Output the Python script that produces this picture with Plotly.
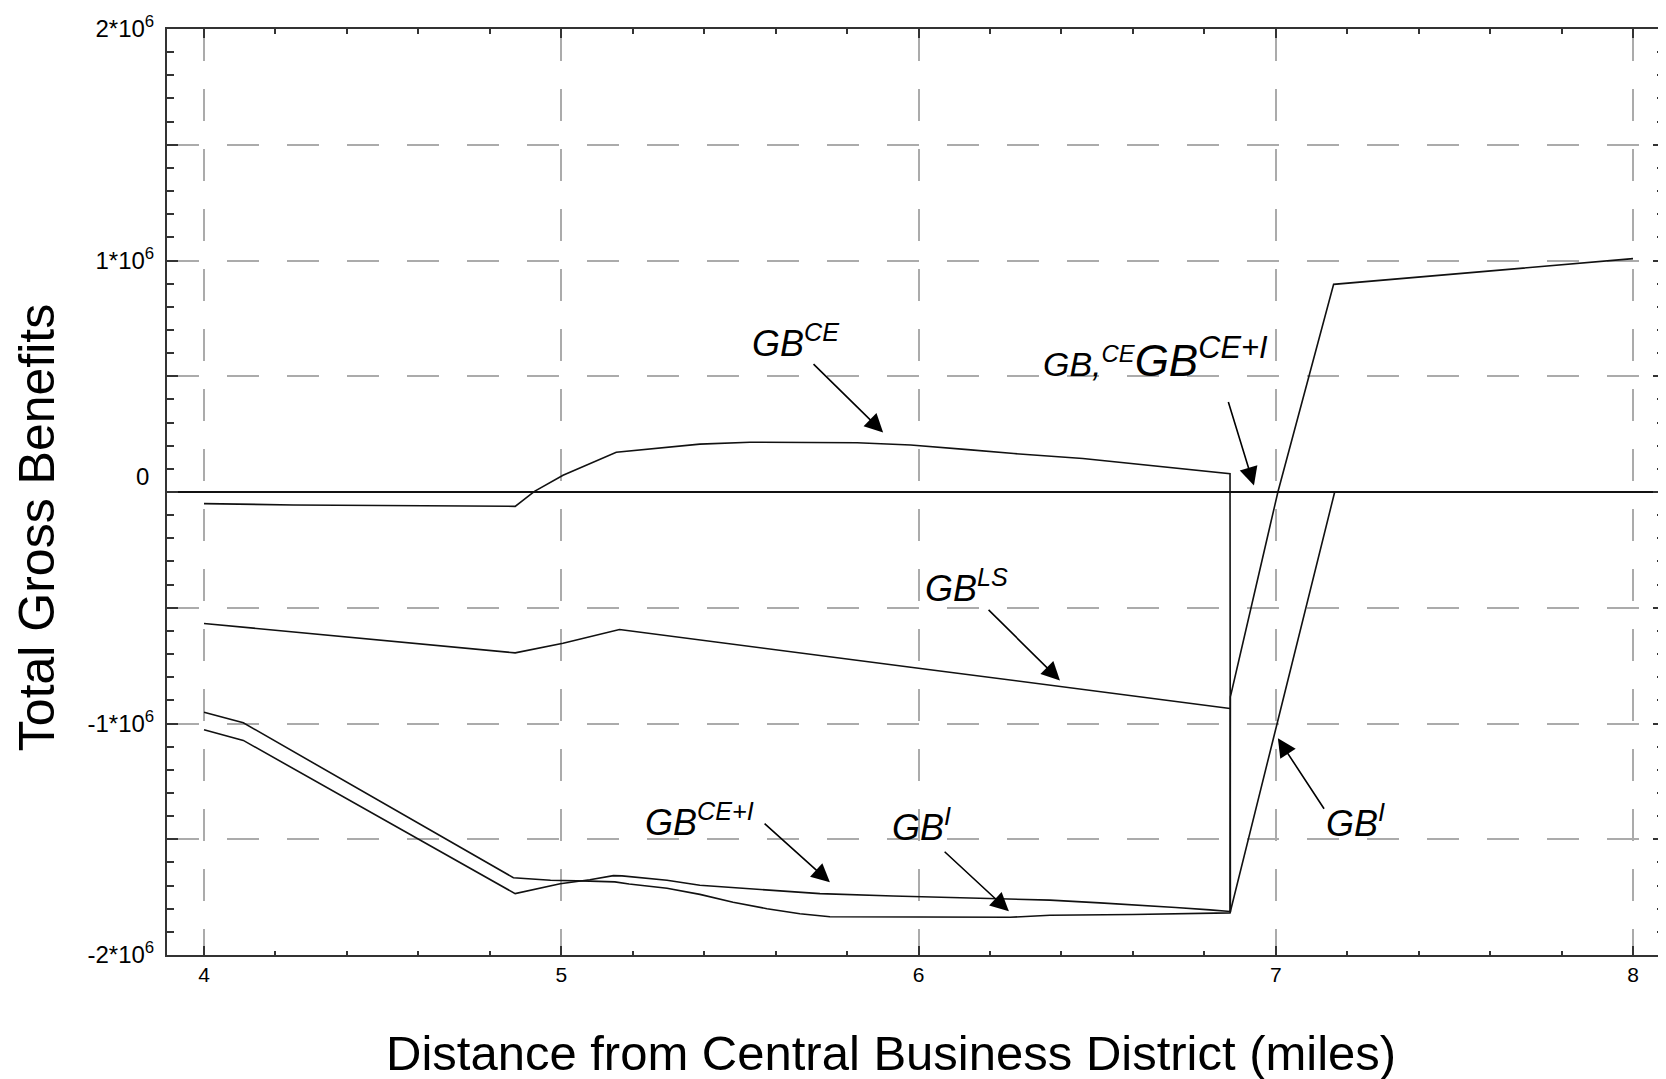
import plotly.graph_objects as go

# ---------------- data ----------------
x_tickvals = [4, 5, 6, 7, 8]
y_tickvals = [-2e6, -1.5e6, -1e6, -0.5e6, 0, 0.5e6, 1e6, 1.5e6, 2e6]
# the "0" label sits a little above its tick in the reference; drawn separately
y_ticktext = ["-2*10<sup>6</sup>", "", "-1*10<sup>6</sup>", "", "", "",
              "1*10<sup>6</sup>", "", "2*10<sup>6</sup>"]
zero_label = "0"

# GB^CE (upper curve, with the jump at ~6.87)
gb_ce_x = [4.0, 4.25, 4.871, 4.925, 5.005, 5.154, 5.388, 5.528, 5.828, 5.978,
           6.138, 6.267, 6.46, 6.567, 6.727, 6.872, 6.873]
gb_ce_y = [-0.050e6, -0.056e6, -0.062e6, 0.003e6, 0.072e6, 0.172e6, 0.207e6,
           0.215e6, 0.213e6, 0.203e6, 0.183e6, 0.166e6, 0.145e6, 0.128e6,
           0.100e6, 0.079e6, -1.815e6]

# GB^LS
gb_ls_x = [4.0, 4.871, 5.005, 5.163, 6.0, 6.872]
gb_ls_y = [-0.568e6, -0.695e6, -0.653e6, -0.594e6, -0.761e6, -0.935e6]

# GB^CE+I (and its continuation rising to ~1e6)
gb_cei_x = [4.0, 4.11, 4.871, 4.997, 5.08, 5.146, 5.17, 5.296, 5.388, 5.481,
            5.576, 5.724, 5.929, 6.097, 6.264, 6.368, 6.508, 6.634, 6.72,
            6.816, 6.872, 6.873, 7.006, 7.162, 7.4, 7.6, 7.8, 8.0]
gb_cei_y = [-1.027e6, -1.073e6, -1.735e6, -1.692e6, -1.675e6, -1.657e6,
            -1.658e6, -1.677e6, -1.699e6, -1.709e6, -1.718e6, -1.735e6,
            -1.745e6, -1.752e6, -1.760e6, -1.763e6, -1.775e6, -1.785e6,
            -1.795e6, -1.805e6, -1.812e6, -0.885e6, 0.0, 0.897e6, 0.928e6,
            0.955e6, 0.982e6, 1.008e6]

# GB^I
gb_i_x = [4.0, 4.11, 4.866, 4.97, 5.08, 5.15, 5.19, 5.296, 5.388, 5.481,
          5.576, 5.668, 5.752, 6.256, 6.368, 6.6, 6.872, 7.165]
gb_i_y = [-0.951e6, -0.997e6, -1.666e6, -1.677e6, -1.681e6, -1.684e6,
          -1.693e6, -1.712e6, -1.738e6, -1.772e6, -1.800e6, -1.822e6,
          -1.835e6, -1.837e6, -1.828e6, -1.825e6, -1.818e6, 0.0]

# labels: text, text left x, text baseline y, arrow tail, arrow head
label_texts = ["GB<sup>CE</sup>", "GB<sup>LS</sup>", "GB<sup>CE+I</sup>",
               "GB<sup>I</sup>", "GB<sup>I</sup>"]
label_x = [5.528, 6.013, 5.229, 5.920, 7.135]
label_y = [0.589e6, -0.470e6, -1.483e6, -1.505e6, -1.487e6]
arrow_tail_x = [5.702, 6.192, 5.565, 6.069, 7.138]
arrow_tail_y = [0.559e6, -0.503e6, -1.427e6, -1.548e6, -1.375e6]
arrow_head_x = [5.901, 6.396, 5.752, 6.253, 7.006]
arrow_head_y = [0.257e6, -0.814e6, -1.686e6, -1.811e6, -1.064e6]

combo_text = ("<span style='font-size:34px'>GB,<sup>CE</sup></span>"
              "<span style='font-size:44px'>GB<sup>CE+I</sup></span>")
combo_x, combo_y = 6.343, 0.507e6
combo_tail = (6.866, 0.395e6)
combo_head = (6.939, 0.028e6)

# ---------------- figure ----------------
FONT = "Liberation Sans, Arial, sans-serif"
LINE = dict(color="#111111", width=1.6)

fig = go.Figure()
for xs, ys in [(gb_ce_x, gb_ce_y), (gb_ls_x, gb_ls_y),
               (gb_cei_x, gb_cei_y), (gb_i_x, gb_i_y)]:
    fig.add_trace(go.Scatter(x=xs, y=ys, mode="lines", line=LINE,
                             showlegend=False, hoverinfo="skip"))

ARROW = dict(text="", showarrow=True, arrowhead=2, arrowsize=2.3,
             arrowwidth=1.6, arrowcolor="black", standoff=0, startstandoff=0,
             xref="x", yref="y", axref="x", ayref="y")

ann = []
for t, lx, ly, tx, ty, hx, hy in zip(label_texts, label_x, label_y,
                                     arrow_tail_x, arrow_tail_y,
                                     arrow_head_x, arrow_head_y):
    ann.append(dict(x=lx, y=ly, xref="x", yref="y", text=t, showarrow=False,
                    xanchor="left", yanchor="bottom", yshift=-10,
                    font=dict(size=36, family=FONT, color="black", style="italic")))
    ann.append(dict(x=hx, y=hy, ax=tx, ay=ty, **ARROW))

ann.append(dict(x=combo_x, y=combo_y, xref="x", yref="y", text=combo_text,
                showarrow=False, xanchor="left", yanchor="bottom", yshift=-12,
                font=dict(size=36, family=FONT, color="black", style="italic")))
ann.append(dict(x=combo_head[0], y=combo_head[1], ax=combo_tail[0],
                ay=combo_tail[1], **ARROW))

# "0" tick label, raised above its tick as in the reference
ann.append(dict(x=0, y=0, xref="paper", yref="y", text=zero_label,
                showarrow=False, xanchor="right", yanchor="middle",
                xshift=-16, yshift=16,
                font=dict(size=24, family=FONT, color="black")))

# axis titles
ann.append(dict(x=0.4836, y=-0.1055, xref="paper", yref="paper",
                text="Distance from Central Business District (miles)",
                showarrow=False, xanchor="center", yanchor="middle",
                font=dict(size=49, family=FONT, color="black")))
ann.append(dict(x=-0.0868, y=0.461, xref="paper", yref="paper",
                text="Total Gross Benefits", textangle=-90,
                showarrow=False, xanchor="center", yanchor="middle",
                font=dict(size=50, family=FONT, color="black")))

# page body has an 8px default margin: size the figure so it fits the window
fig.update_layout(
    width=1658, height=1071,
    margin=dict(l=159, r=2, t=21, b=124, autoexpand=False),
    paper_bgcolor="white", plot_bgcolor="white",
    font=dict(family=FONT, color="black"),
    annotations=ann,
)

GRID = dict(showgrid=True, gridcolor="#ababab", gridwidth=1.6,
            griddash="32px,28px")

fig.update_xaxes(range=[3.8964, 8.0868], tickvals=x_tickvals, automargin=False,
                 ticks="inside", ticklen=9, tickwidth=2, tickcolor="#333333",
                 showline=True, linecolor="#333333", linewidth=2, mirror="ticks",
                 tickfont=dict(size=21, family=FONT, color="black"),
                 zeroline=False,
                 minor=dict(dtick=0.2, tick0=4, ticks="inside", ticklen=4.5,
                            tickwidth=1.5, tickcolor="#333333", showgrid=False),
                 **GRID)
fig.update_yaxes(range=[-2e6, 2e6], tickvals=y_tickvals, ticktext=y_ticktext,
                 automargin=False, ticklabelstandoff=6,
                 ticks="inside", ticklen=11, tickwidth=2, tickcolor="#333333",
                 showline=True, linecolor="#333333", linewidth=2, mirror="ticks",
                 tickfont=dict(size=24, family=FONT, color="black"),
                 zeroline=True, zerolinecolor="#111111", zerolinewidth=2,
                 minor=dict(dtick=1e5, ticks="inside", ticklen=7,
                            tickwidth=1.5, tickcolor="#333333", showgrid=False),
                 **GRID)

fig.write_html("out.html")
